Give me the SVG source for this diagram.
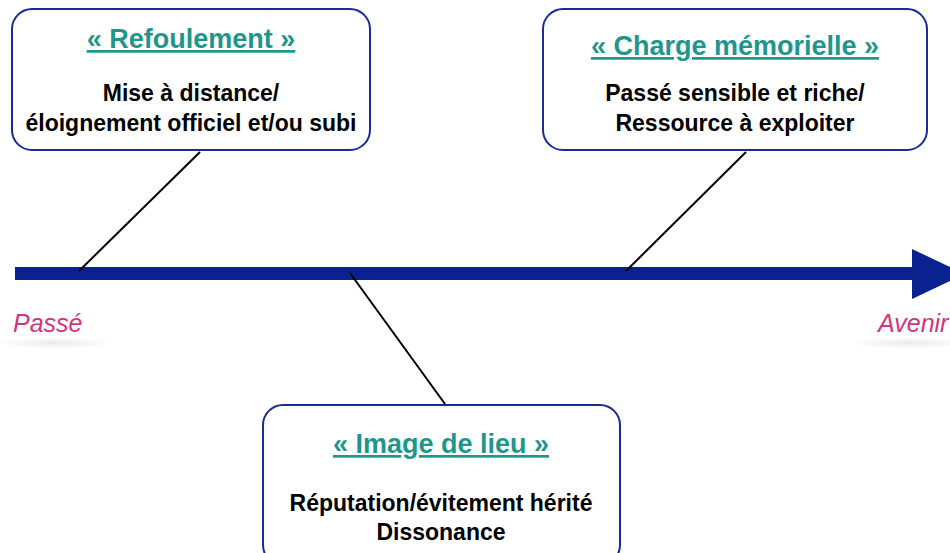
<svg xmlns="http://www.w3.org/2000/svg" width="950" height="553" viewBox="0 0 950 553">
<style>
.box{fill:#fff;stroke:#1a2a96;stroke-width:2}
.title{font-family:"Liberation Sans",Arial,sans-serif;font-weight:bold;font-size:27px;fill:#1f968c;text-decoration:underline;text-anchor:middle}
.body{font-family:"Liberation Sans",Arial,sans-serif;font-weight:bold;font-size:23px;fill:#000;text-anchor:middle}
.lbl{font-family:"Liberation Sans",Arial,sans-serif;font-style:italic;font-size:25px;fill:#d0357f}
.conn{stroke:#000;stroke-width:2;fill:none}
</style>
<defs>
<radialGradient id="sh" cx="0.5" cy="0.5" r="0.5">
<stop offset="0" stop-color="#000" stop-opacity="0.08"/>
<stop offset="1" stop-color="#000" stop-opacity="0"/>
</radialGradient>
</defs>
<rect width="950" height="553" fill="#fff"/>
<g id="axis">
<rect x="15" y="267" width="898" height="13" fill="#0a2290"/>
<polygon points="912,249 965,274 912,299" fill="#0a2290"/>
</g>
<g id="connectors">
<line class="conn" x1="200" y1="152" x2="79" y2="271"/>
<line class="conn" x1="746" y1="152" x2="626" y2="271"/>
<line class="conn" x1="350" y1="273" x2="445" y2="404"/>
</g>
<g id="passe">
<ellipse cx="55" cy="343" rx="60" ry="6" fill="url(#sh)"/>
<text class="lbl" x="13" y="332">Passé</text>
</g>
<g id="avenir">
<ellipse cx="910" cy="343" rx="60" ry="6" fill="url(#sh)"/>
<text class="lbl" x="878" y="332">Avenir</text>
</g>
<g id="refoulement">
<rect class="box" x="12" y="9" width="358" height="141" rx="20"/>
<text class="title" x="191" y="48">« Refoulement »</text>
<text class="body" x="191" y="101">Mise à distance/</text>
<text class="body" x="191" y="131">éloignement officiel et/ou subi</text>
</g>
<g id="charge">
<rect class="box" x="543" y="9" width="384" height="141" rx="20"/>
<text class="title" x="735" y="55">« Charge mémorielle »</text>
<text class="body" x="735" y="101">Passé sensible et riche/</text>
<text class="body" x="735" y="131">Ressource à exploiter</text>
</g>
<g id="image">
<rect class="box" x="263" y="405" width="357" height="160" rx="20"/>
<text class="title" x="441" y="453">« Image de lieu »</text>
<text class="body" x="441" y="511">Réputation/évitement hérité</text>
<text class="body" x="441" y="540">Dissonance</text>
</g>
</svg>
